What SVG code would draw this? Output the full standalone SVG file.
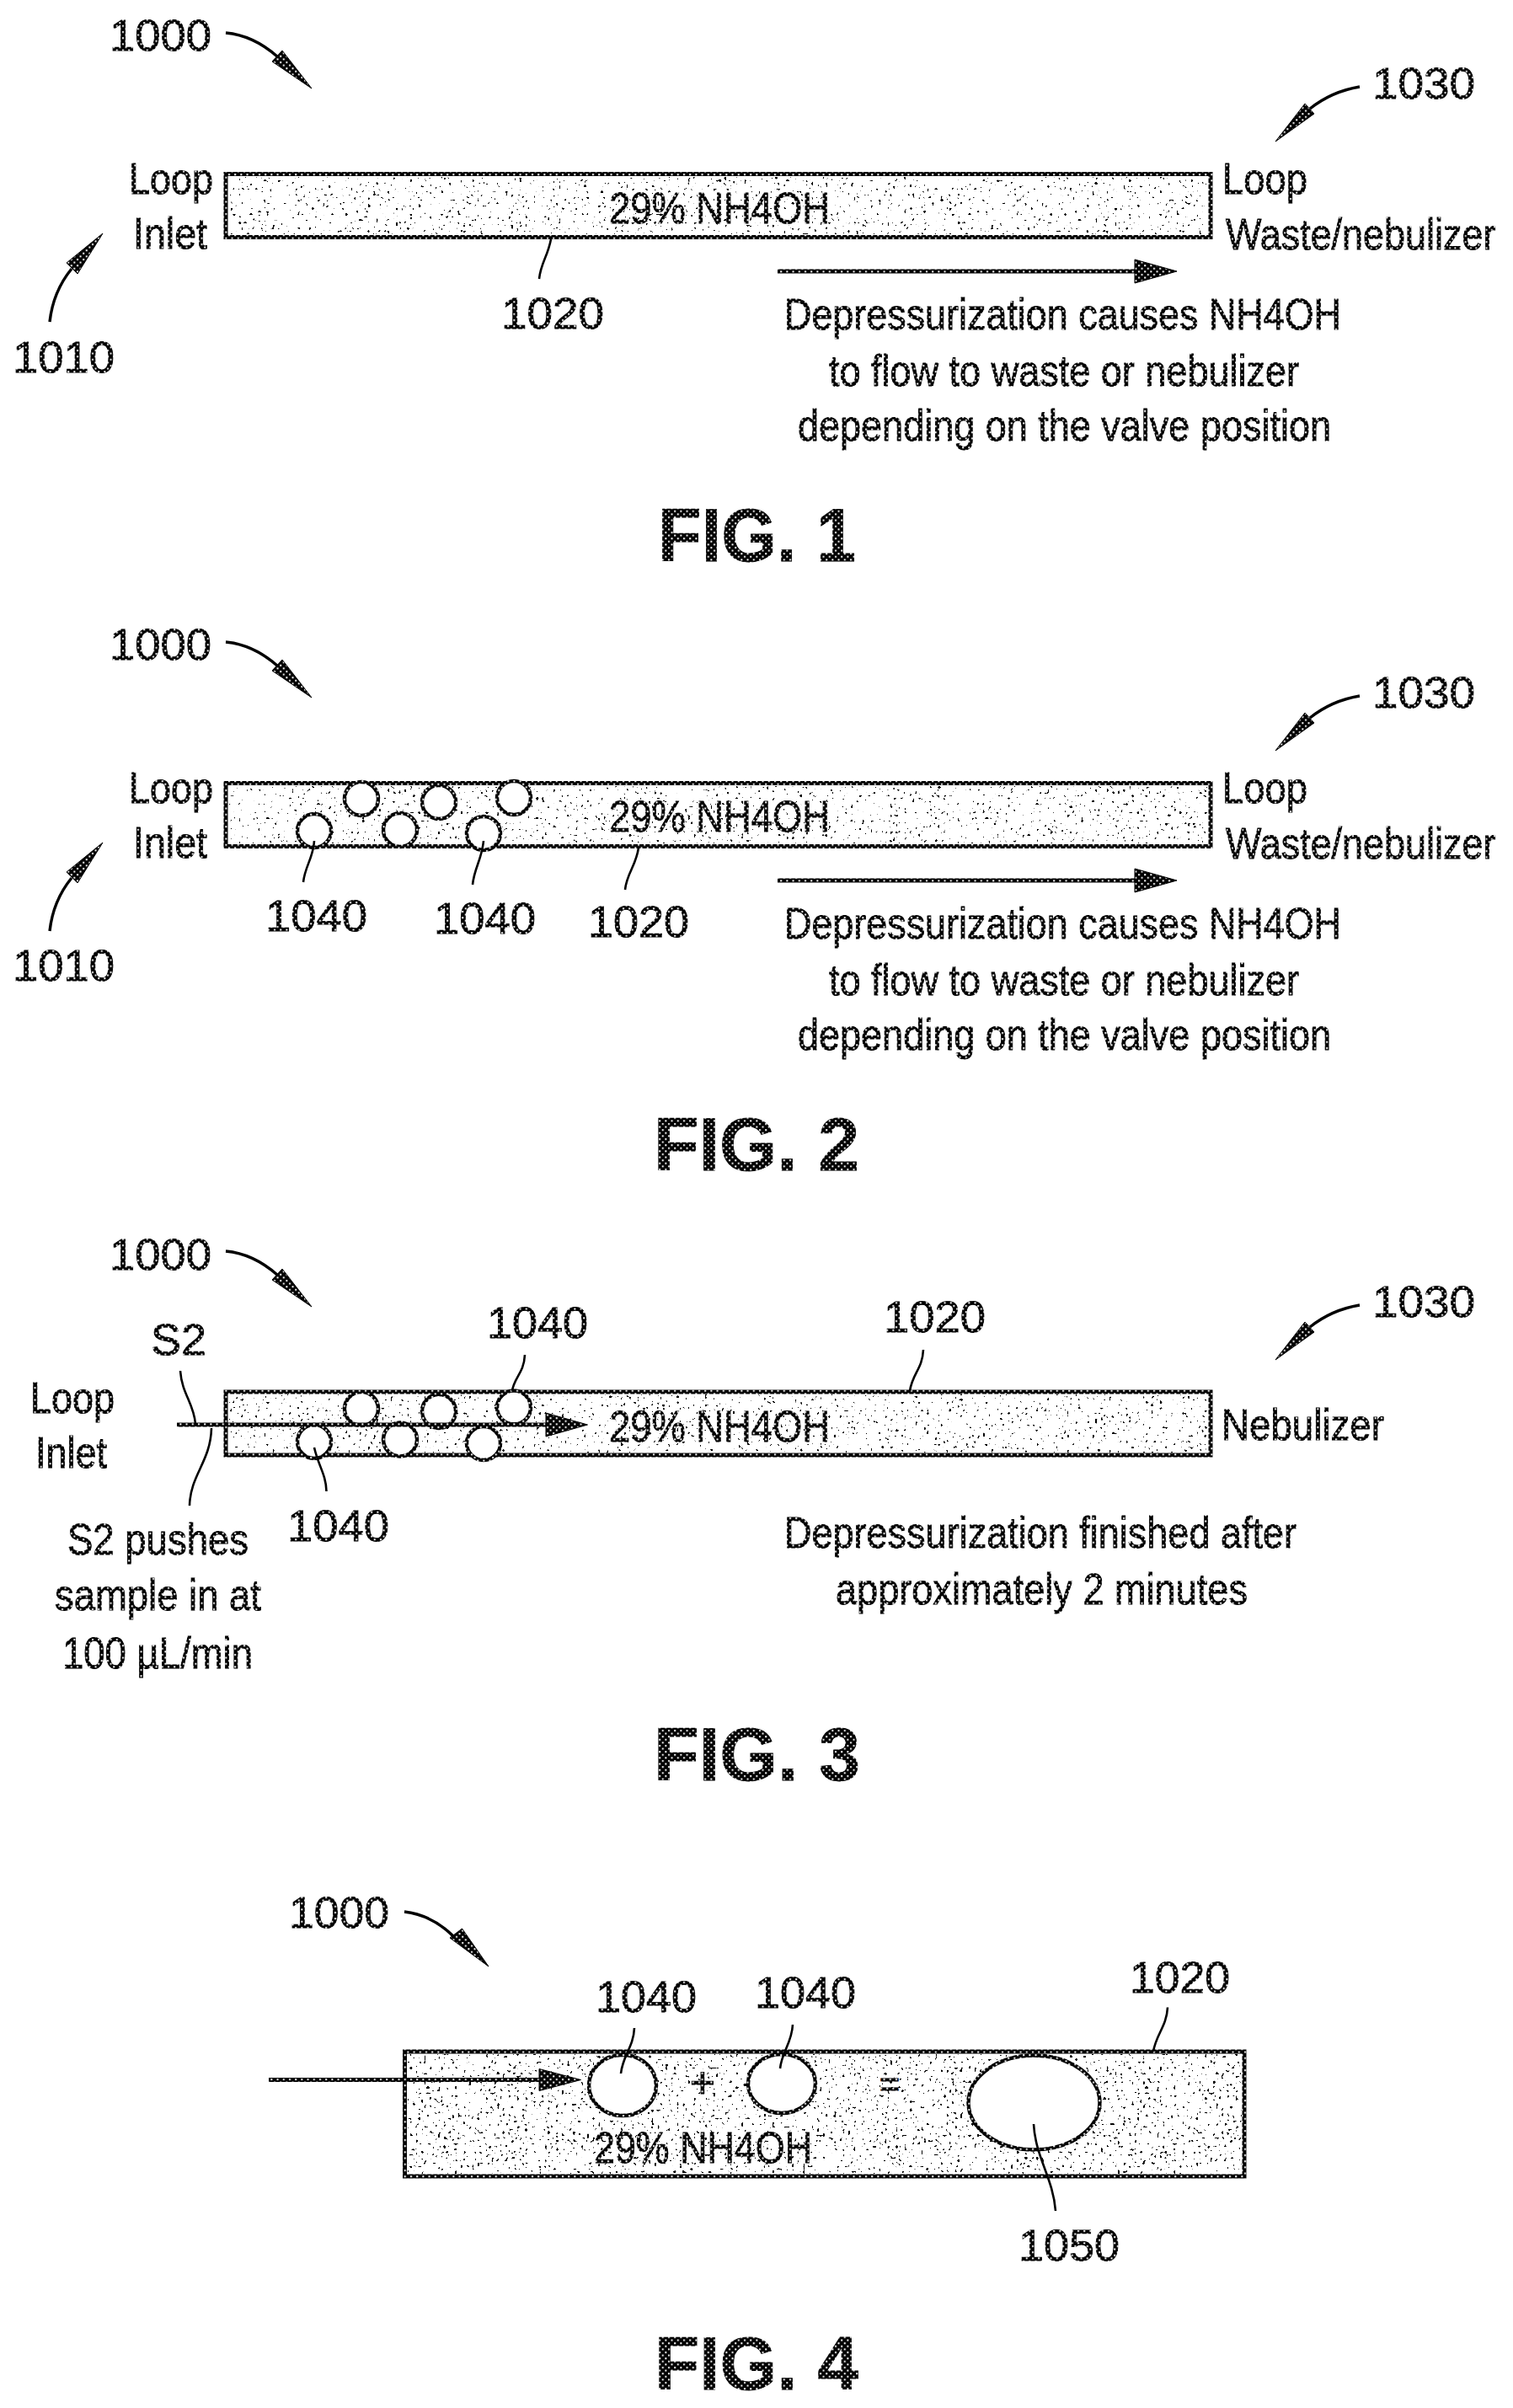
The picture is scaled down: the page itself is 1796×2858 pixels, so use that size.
<svg xmlns="http://www.w3.org/2000/svg" xmlns:xlink="http://www.w3.org/1999/xlink" width="1796" height="2858" viewBox="0 0 1796 2858">
<style>
.t{font-family:"Liberation Sans",Arial,sans-serif;font-size:52px;fill:url(#ht);stroke:url(#ht);stroke-width:.9}
.f{font-family:"Liberation Sans",Arial,sans-serif;font-size:89px;font-weight:bold;fill:url(#ht);stroke:url(#ht);stroke-width:.8}
.box{fill:#fff;stroke:url(#ht);stroke-width:5}
.sp{fill:#000}
.sp1{filter:url(#speckle)}
.sp4{filter:url(#speckle4)}
.bub{fill:#fff;stroke:url(#ht);stroke-width:4.5}
.lead{fill:none;stroke:#000;stroke-width:2.6}
.curve{fill:none;stroke:#000;stroke-width:3.4}
.head{fill:url(#ht);stroke:#000;stroke-width:1}
.flow{fill:none;stroke:url(#ht);stroke-width:5}
</style>
<defs>
<pattern id="ht" patternUnits="userSpaceOnUse" width="7.2" height="7.2">
<rect width="7.2" height="7.2" fill="#000"/>
<rect x="1" y="1" width="2" height="2" fill="#fff"/>
<rect x="4.6" y="4.6" width="2" height="2" fill="#fff"/>
</pattern>
<filter id="speckle" x="0" y="0" width="1" height="1" color-interpolation-filters="sRGB">
<feTurbulence type="fractalNoise" baseFrequency="0.3" numOctaves="1" seed="7" result="a"/>
<feColorMatrix in="a" type="matrix" values="0 0 0 0 0 0 0 0 0 0 0 0 0 0 0 1 0 0 0 0" result="ax"/>
<feTurbulence type="fractalNoise" baseFrequency="0.04" numOctaves="1" seed="11" result="b"/>
<feColorMatrix in="b" type="matrix" values="0 0 0 0 0 0 0 0 0 0 0 0 0 0 0 1 0 0 0 0" result="bx"/>
<feComposite in="ax" in2="bx" operator="arithmetic" k1="0" k2="0.9" k3="0.1" k4="0" result="m"/>
<feComponentTransfer in="m"><feFuncA type="linear" slope="40" intercept="-26.4"/></feComponentTransfer>
</filter>
<filter id="speckle4" x="0" y="0" width="1" height="1" color-interpolation-filters="sRGB">
<feTurbulence type="fractalNoise" baseFrequency="0.3" numOctaves="1" seed="19" result="a"/>
<feColorMatrix in="a" type="matrix" values="0 0 0 0 0 0 0 0 0 0 0 0 0 0 0 1 0 0 0 0" result="ax"/>
<feTurbulence type="fractalNoise" baseFrequency="0.04" numOctaves="1" seed="5" result="b"/>
<feColorMatrix in="b" type="matrix" values="0 0 0 0 0 0 0 0 0 0 0 0 0 0 0 1 0 0 0 0" result="bx"/>
<feComposite in="ax" in2="bx" operator="arithmetic" k1="0" k2="0.9" k3="0.1" k4="0" result="m"/>
<feComponentTransfer in="m"><feFuncA type="linear" slope="40" intercept="-25.8"/></feComponentTransfer>
</filter>
<g id="arrow1000"><path class="curve" d="M268 39C290 41 312 52 329 67"/><path class="head" d="M335 60L323 73L370 105Z"/></g>
<g id="arrow1010"><path class="curve" d="M59 382C62 355 72 335 85 319"/><path class="head" d="M79 312L92 325L122 277Z"/></g>
<g id="arrow1030"><path class="curve" d="M1614 103C1590 107 1570 117 1555 129"/><path class="head" d="M1549 123L1560 135L1514 168Z"/></g>
<g id="flowarrow"><path class="flow" d="M923 322H1350"/><path class="head" d="M1347 308L1397 322L1347 336Z"/></g>
</defs>
<rect width="1796" height="2858" fill="#fff"/>

<g id="fig1">
<g id="fig1-tube"><rect class="box" x="268" y="206.500" width="1169" height="75"/><rect class="sp sp1" x="272" y="210" width="1161" height="68"/>
<text class="t" x="723" y="265" textLength="262" lengthAdjust="spacingAndGlyphs">29% NH4OH</text></g>
<g id="fig1-labels">
<text class="t" x="130" y="60" textLength="121" lengthAdjust="spacingAndGlyphs">1000</text>
<text class="t" x="153" y="230" textLength="100" lengthAdjust="spacingAndGlyphs">Loop</text>
<text class="t" x="158" y="295" textLength="88" lengthAdjust="spacingAndGlyphs">Inlet</text>
<text class="t" x="15" y="442" textLength="121" lengthAdjust="spacingAndGlyphs">1010</text>
<text class="t" x="595" y="390" textLength="122" lengthAdjust="spacingAndGlyphs">1020</text>
<text class="t" x="1629" y="117" textLength="122" lengthAdjust="spacingAndGlyphs">1030</text>
<text class="t" x="1451" y="230" textLength="101" lengthAdjust="spacingAndGlyphs">Loop</text>
<text class="t" transform="translate(1455 296) scale(.864 1)">Waste/nebulizer</text>
<text class="t" x="931" y="391" textLength="661" lengthAdjust="spacingAndGlyphs">Depressurization causes NH4OH</text>
<text class="t" x="984" y="458" textLength="558" lengthAdjust="spacingAndGlyphs">to flow to waste or nebulizer</text>
<text class="t" x="947" y="523" textLength="633" lengthAdjust="spacingAndGlyphs">depending on the valve position</text>
<text class="f" x="781" y="666" textLength="235" lengthAdjust="spacingAndGlyphs">FIG. 1</text>
</g></g>

<g id="fig2">
<g id="fig2-tube"><rect class="box" x="268" y="929.500" width="1169" height="75"/><rect class="sp sp1" x="272" y="933" width="1161" height="68"/>
<text class="t" x="723" y="987" textLength="262" lengthAdjust="spacingAndGlyphs">29% NH4OH</text></g>
<g id="fig2-bubbles">
<circle class="bub" cx="429" cy="948" r="20"/><circle class="bub" cx="521" cy="952" r="20"/><circle class="bub" cx="610" cy="947" r="20"/>
<circle class="bub" cx="373" cy="986" r="20"/><circle class="bub" cx="475" cy="985" r="20"/><circle class="bub" cx="574" cy="989" r="20"/>
</g>
<g id="fig2-labels">
<text class="t" x="130" y="783" textLength="121" lengthAdjust="spacingAndGlyphs">1000</text>
<text class="t" x="153" y="953" textLength="100" lengthAdjust="spacingAndGlyphs">Loop</text>
<text class="t" x="158" y="1018" textLength="88" lengthAdjust="spacingAndGlyphs">Inlet</text>
<text class="t" x="15" y="1164" textLength="121" lengthAdjust="spacingAndGlyphs">1010</text>
<text class="t" x="315" y="1105" textLength="121" lengthAdjust="spacingAndGlyphs">1040</text>
<text class="t" x="515" y="1108" textLength="121" lengthAdjust="spacingAndGlyphs">1040</text>
<text class="t" x="698" y="1112" textLength="120" lengthAdjust="spacingAndGlyphs">1020</text>
<text class="t" x="1629" y="840" textLength="122" lengthAdjust="spacingAndGlyphs">1030</text>
<text class="t" x="1451" y="953" textLength="101" lengthAdjust="spacingAndGlyphs">Loop</text>
<text class="t" transform="translate(1455 1019) scale(.864 1)">Waste/nebulizer</text>
<text class="t" x="931" y="1114" textLength="661" lengthAdjust="spacingAndGlyphs">Depressurization causes NH4OH</text>
<text class="t" x="984" y="1181" textLength="558" lengthAdjust="spacingAndGlyphs">to flow to waste or nebulizer</text>
<text class="t" x="947" y="1246" textLength="633" lengthAdjust="spacingAndGlyphs">depending on the valve position</text>
<text class="f" x="776" y="1389" textLength="244" lengthAdjust="spacingAndGlyphs">FIG. 2</text>
</g></g>

<g id="fig3">
<g id="fig3-tube"><rect class="box" x="268" y="1652" width="1169" height="75"/><rect class="sp sp1" x="272" y="1655.500" width="1161" height="68"/>
<text class="t" x="723" y="1711" textLength="262" lengthAdjust="spacingAndGlyphs">29% NH4OH</text></g>
<g id="fig3-bubbles">
<circle class="bub" cx="429" cy="1672" r="20"/><circle class="bub" cx="521" cy="1675" r="20"/><circle class="bub" cx="610" cy="1670.500" r="20"/>
<circle class="bub" cx="373" cy="1711" r="20"/><circle class="bub" cx="475" cy="1708.500" r="20"/><circle class="bub" cx="574" cy="1713" r="20"/>
</g>
<g id="fig3-labels">
<text class="t" x="130" y="1506.500" textLength="121" lengthAdjust="spacingAndGlyphs">1000</text>
<text class="t" x="179" y="1607.500" textLength="66" lengthAdjust="spacingAndGlyphs">S2</text>
<text class="t" x="36" y="1676.500" textLength="100" lengthAdjust="spacingAndGlyphs">Loop</text>
<text class="t" x="42" y="1741.500" textLength="85" lengthAdjust="spacingAndGlyphs">Inlet</text>
<text class="t" x="578" y="1588" textLength="120" lengthAdjust="spacingAndGlyphs">1040</text>
<text class="t" x="341" y="1829" textLength="121" lengthAdjust="spacingAndGlyphs">1040</text>
<text class="t" x="80" y="1845" textLength="215" lengthAdjust="spacingAndGlyphs">S2 pushes</text>
<text class="t" x="65" y="1910.500" textLength="245" lengthAdjust="spacingAndGlyphs">sample in at</text>
<text class="t" x="74" y="1979.500" textLength="226" lengthAdjust="spacingAndGlyphs">100 µL/min</text>
<text class="t" x="1049" y="1581" textLength="121" lengthAdjust="spacingAndGlyphs">1020</text>
<text class="t" x="1629" y="1563" textLength="122" lengthAdjust="spacingAndGlyphs">1030</text>
<text class="t" x="1450" y="1708.500" textLength="193" lengthAdjust="spacingAndGlyphs">Nebulizer</text>
<text class="t" x="931" y="1837" textLength="608" lengthAdjust="spacingAndGlyphs">Depressurization finished after</text>
<text class="t" x="992" y="1904" textLength="489" lengthAdjust="spacingAndGlyphs">approximately 2 minutes</text>
<text class="f" x="776" y="2112.500" textLength="245" lengthAdjust="spacingAndGlyphs">FIG. 3</text>
</g></g>

<g id="fig4">
<g id="fig4-tube"><rect class="box" x="480.500" y="2435" width="996.500" height="148"/><rect class="sp sp4" x="484" y="2438" width="990" height="142"/>
<text class="t" x="705" y="2567" textLength="259" lengthAdjust="spacingAndGlyphs">29% NH4OH</text>
<text class="t" x="834" y="2490" text-anchor="middle">+</text>
<text class="t" x="1056" y="2488" text-anchor="middle" style="font-size:42px">=</text></g>
<g id="fig4-bubbles">
<ellipse class="bub" cx="739" cy="2475" rx="40" ry="36"/><ellipse class="bub" cx="928" cy="2473" rx="40" ry="35"/><ellipse class="bub" cx="1227.500" cy="2495.500" rx="78" ry="56"/>
</g>
<g id="fig4-labels">
<text class="t" x="343" y="2288" textLength="119" lengthAdjust="spacingAndGlyphs">1000</text>
<text class="t" x="707" y="2387.500" textLength="120" lengthAdjust="spacingAndGlyphs">1040</text>
<text class="t" x="896" y="2383" textLength="120" lengthAdjust="spacingAndGlyphs">1040</text>
<text class="t" x="1341" y="2364.500" textLength="119" lengthAdjust="spacingAndGlyphs">1020</text>
<text class="t" x="1209" y="2682.500" textLength="120" lengthAdjust="spacingAndGlyphs">1050</text>
<text class="f" x="777" y="2836" textLength="242" lengthAdjust="spacingAndGlyphs">FIG. 4</text>
</g></g>

<g id="connectors">
<use href="#arrow1000"/><use href="#arrow1010"/><use href="#arrow1030"/><use href="#flowarrow"/>
<path class="lead" d="M654 284C650 305 642 312 640 331"/>
<use href="#arrow1000" y="723"/><use href="#arrow1010" y="723"/><use href="#arrow1030" y="723"/><use href="#flowarrow" y="723"/>
<path class="lead" d="M373 998C372 1018 362 1028 360 1047"/>
<path class="lead" d="M574 998C572 1020 563 1030 561 1050"/>
<path class="lead" d="M758 1006C755 1028 744 1036 742 1056"/>
<use href="#arrow1000" y="1446"/><use href="#arrow1030" y="1446"/>
<path class="flow" d="M210 1691H650"/><path class="head" d="M648 1677L697.500 1691L648 1705Z"/>
<path class="lead" d="M214 1627C216 1655 230 1665 232 1690"/>
<path class="lead" d="M251 1695C250 1735 226 1750 225 1787"/>
<path class="lead" d="M623 1608C622 1630 610 1635 608 1651"/>
<path class="lead" d="M373 1718C378 1740 387 1750 387.500 1770"/>
<path class="lead" d="M1096 1602C1095 1625 1083 1630 1080 1651"/>
<path class="curve" d="M480 2269C505 2272 525 2285 538 2298"/><path class="head" d="M534 2300L548.500 2289L580 2334Z"/>
<path class="flow" d="M319 2468.500H642"/><path class="head" d="M640 2455.500L689.500 2468.500L640 2481.500Z"/>
<path class="lead" d="M753 2407C752 2430 739 2440 737 2461"/>
<path class="lead" d="M941 2403C940 2425 928 2435 926 2455"/>
<path class="lead" d="M1386 2382.500C1385 2405 1372 2415 1369 2435"/>
<path class="lead" d="M1227 2521C1229 2560 1250 2585 1253 2624"/>
</g>
</svg>
